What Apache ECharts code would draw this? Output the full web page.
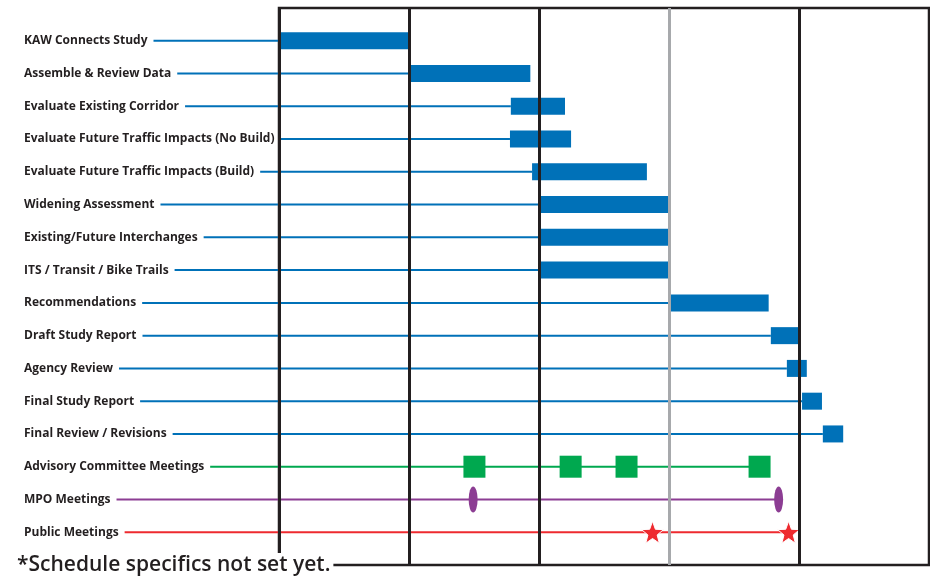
<!DOCTYPE html>
<html>
<head>
<meta charset="utf-8">
<script src="https://cdn.jsdelivr.net/npm/echarts@6/dist/echarts.min.js"></script>
<style>
  html, body { margin: 0; padding: 0; background: #fff; }
  #chart { width: 930px; height: 581px; }
</style>
</head>
<body>
<div id="chart"></div>
<script>
// Schedule rows, top to bottom
const rowNames = [
  'KAW Connects Study',
  'Assemble & Review Data',
  'Evaluate Existing Corridor',
  'Evaluate Future Traffic Impacts (No Build)',
  'Evaluate Future Traffic Impacts (Build)',
  'Widening Assessment',
  'Existing/Future Interchanges',
  'ITS / Transit / Bike Trails',
  'Recommendations',
  'Draft Study Report',
  'Agency Review',
  'Final Study Report',
  'Final Review / Revisions',
  'Advisory Committee Meetings',
  'MPO Meetings',
  'Public Meetings'
];

// Task bars, in months from the start of the study
const taskStart = [0.0, 3.0, 5.35, 5.33, 5.84, 6.0, 6.0, 6.0, 9.0, 11.35, 11.72, 12.07, 12.55];
const taskEnd   = [3.0, 5.8, 6.6, 6.74, 8.49, 9.0, 9.0, 9.0, 11.3, 12.0, 12.18, 12.53, 13.02];

// Meeting dates, in months
const advisoryMeetings = [4.51, 6.73, 8.02, 11.09];
const mpoMeetings = [4.48, 11.53];
const publicMeetings = [8.62, 11.76];

// Quarter boundaries on the time axis
const quarterTicks = [0, 3, 6, 9, 12, 15];

const footnote = '*Schedule specifics not set yet.';

const ADVISORY_ROW = 13, MPO_ROW = 14, PUBLIC_ROW = 15;

const INK = '#231f20';
const BLUE = '#0071b8';
const GREEN = '#00a84f';
const PURPLE = '#8c3d93';
const RED = '#ee2a2f';
const LABEL_FAMILY = '"Open Sans"';
const LABEL_SIZE = 12;
const LABEL_LEFT = 24;
const GRID_LEFT = 279;

const measureCtx = document.createElement('canvas').getContext('2d');
measureCtx.font = 'bold ' + LABEL_SIZE + 'px ' + LABEL_FAMILY;
function labelEnd(row) {
  return LABEL_LEFT + measureCtx.measureText(rowNames[row]).width;
}

// leader lines run from each label to the first mark (tasks) or last meeting
const leaderData = [];
taskStart.forEach((s, i) => leaderData.push([i, s, BLUE]));
leaderData.push([ADVISORY_ROW, Math.max(...advisoryMeetings), GREEN]);
leaderData.push([MPO_ROW, Math.max(...mpoMeetings), PURPLE]);
leaderData.push([PUBLIC_ROW, Math.max(...publicMeetings), RED]);

const barData = taskStart.map((s, i) => [i, s, taskEnd[i]]);

// five-pointed star outline for public meetings
function starPath() {
  let d = '';
  for (let k = 0; k < 10; k++) {
    const r = k % 2 === 0 ? 50 : 21;
    const a = -Math.PI / 2 + k * Math.PI / 5;
    d += (k === 0 ? 'M' : 'L') + (50 + r * Math.cos(a)).toFixed(2) + ' ' + (50 + r * Math.sin(a)).toFixed(2) + ' ';
  }
  return 'path://' + d + 'Z';
}

const chart = echarts.init(document.getElementById('chart'), null, { renderer: 'canvas' });

chart.setOption({
  animation: false,
  backgroundColor: '#fff',
  grid: {
    left: GRID_LEFT, right: 1, top: 8, bottom: 16,
    show: true, borderColor: INK, borderWidth: 2.5, backgroundColor: 'transparent'
  },
  xAxis: {
    type: 'value',
    min: quarterTicks[0],
    max: quarterTicks[quarterTicks.length - 1],
    interval: 3,
    z: 5,
    axisLine: { show: false },
    axisTick: { show: false },
    axisLabel: { show: false },
    splitLine: {
      show: true,
      lineStyle: { width: 3, color: [INK, INK, INK, '#a7a9ac', INK, INK] }
    }
  },
  yAxis: {
    type: 'value',
    inverse: true,
    min: -1,
    max: 16,
    interval: 1,
    axisLine: { show: false },
    axisTick: { show: false },
    splitLine: { show: false },
    axisLabel: {
      align: 'left',
      margin: GRID_LEFT - LABEL_LEFT,
      color: INK,
      fontFamily: LABEL_FAMILY,
      fontWeight: 'bold',
      fontSize: LABEL_SIZE,
      formatter: v => (rowNames[v] !== undefined ? rowNames[v] : '')
    }
  },
  series: [
    {
      name: 'leaders',
      type: 'custom',
      silent: true,
      z: 1,
      clip: false,
      data: leaderData,
      renderItem: (params, api) => {
        const row = api.value(0);
        const p = api.coord([api.value(1), row]);
        const x0 = labelEnd(row) + 6;
        return {
          type: 'line',
          shape: { x1: x0, y1: p[1], x2: p[0], y2: p[1] },
          style: { stroke: leaderData[params.dataIndex][2], lineWidth: 2 }
        };
      }
    },
    {
      name: 'tasks',
      type: 'custom',
      silent: true,
      z: 2,
      clip: false,
      data: barData,
      renderItem: (params, api) => {
        const row = api.value(0);
        const a = api.coord([api.value(1), row]);
        const b = api.coord([api.value(2), row]);
        return {
          type: 'rect',
          shape: { x: a[0], y: a[1] - 8.5, width: b[0] - a[0], height: 17 },
          style: { fill: BLUE }
        };
      }
    },
    {
      name: 'Advisory Committee Meetings',
      type: 'scatter',
      z: 3,
      symbol: 'rect',
      symbolSize: 22,
      itemStyle: { color: GREEN, opacity: 1 },
      data: advisoryMeetings.map(m => [m, ADVISORY_ROW])
    },
    {
      name: 'MPO Meetings',
      type: 'scatter',
      z: 3,
      symbol: 'circle',
      symbolSize: [9, 26],
      itemStyle: { color: PURPLE, opacity: 1 },
      data: mpoMeetings.map(m => [m, MPO_ROW])
    },
    {
      name: 'Public Meetings',
      type: 'scatter',
      z: 3,
      symbol: starPath(),
      symbolSize: 22,
      itemStyle: { color: RED, opacity: 1, borderColor: '#fff', borderWidth: 1 },
      data: publicMeetings.map(m => [m, PUBLIC_ROW])
    }
  ],
  graphic: [
    {
      type: 'text',
      left: 17,
      top: 553,
      z: 100,
      style: {
        text: footnote,
        font: '600 21px "Open Sans"',
        fill: INK,
        backgroundColor: '#fff',
        padding: [2, 3, 0, 0]
      }
    }
  ]
});
</script>
</body>
</html>
